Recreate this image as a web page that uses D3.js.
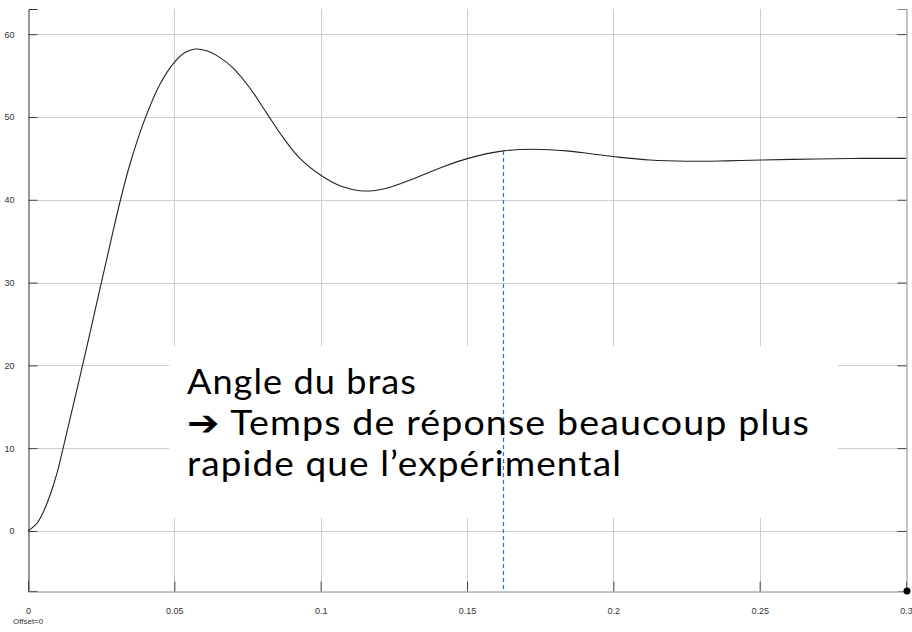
<!DOCTYPE html>
<html>
<head>
<meta charset="utf-8">
<script src="https://cdn.jsdelivr.net/npm/d3@7"></script>
<style>
	body { margin: 0; background: #fff; }
	svg { display: block; }
</style>
</head>
<body>
<div id="chart"></div>
<script>
//data
var timeValues = [0, 0.003, 0.0055, 0.008, 0.010, 0.0118, 0.015, 0.0189, 0.022, 0.0252, 0.0283, 0.0314, 0.035, 0.040, 0.045, 0.050, 0.0535, 0.0571, 0.061, 0.0655, 0.0701, 0.0758, 0.0815, 0.0872, 0.0929, 0.1003, 0.1066, 0.1146, 0.1225, 0.1328, 0.1419, 0.1504, 0.1624, 0.1726, 0.184, 0.2005, 0.2125, 0.225, 0.2387, 0.2507, 0.2694, 0.285, 0.3];
var angleValues = [0, 0.9, 2.5, 4.8, 7.1, 9.7, 14.5, 20.4, 25.2, 30.2, 35.0, 39.7, 44.5, 49.8, 53.9, 56.6, 57.75, 58.2, 58.0, 57.2, 55.9, 53.5, 50.5, 47.5, 45.0, 42.9, 41.7, 41.06, 41.4, 42.7, 44.0, 45.0, 45.9, 46.1, 45.9, 45.2, 44.8, 44.65, 44.7, 44.8, 44.93, 45.0, 45.0];

var xTicks = [0, 0.05, 0.1, 0.15, 0.2, 0.25, 0.3];
var xTickLabels = ['0', '0.05', '0.1', '0.15', '0.2', '0.25', '0.3'];
var yTicks = [0, 10, 20, 30, 40, 50, 60];

var cursorTime = 0.1622;
var offsetLabel = 'Offset=0';
var noteLines = ['Angle du bras', '\u2794 Temps de réponse beaucoup plus', 'rapide que l\u2019expérimental'];

//namespace for common vars
var fv = {
	'outerWidth': 912,
	'outerHeight': 632,
	'top': 9,
	'left': 28,
	'right': 906,
	'bottom': 591
};

//namespace for the note box
var note = {
	'x': 169,
	'y': 346,
	'width': 669,
	'height': 172,
	'textX': 187,
	'firstBaseline': 394,
	'lineHeight': 41,
	'lineWidths': [230, 623, 435]
};

var data = timeValues.map(function(t, i) { return {t: t, v: angleValues[i]}; });

var svg = d3.select('#chart').append('svg')
	.attr('width', fv.outerWidth)
	.attr('height', fv.outerHeight);

//scales
var x = d3.scaleLinear().domain([0, 0.3]).range([fv.left, fv.right]);
var y = d3.scaleLinear().domain([-7.25, 63.04]).range([fv.bottom, fv.top]);

//grid
var grid = svg.append('g').attr('class', 'grid');
grid.selectAll('.vgrid')
	.data(xTicks.slice(1, -1))
	.enter().append('line')
	.attr('x1', function(d) { return Math.round(x(d)) + 0.5; })
	.attr('x2', function(d) { return Math.round(x(d)) + 0.5; })
	.attr('y1', fv.top)
	.attr('y2', fv.bottom)
	.style('stroke', '#cdcdcd');
grid.selectAll('.hgrid')
	.data(yTicks)
	.enter().append('line')
	.attr('x1', fv.left)
	.attr('x2', fv.right)
	.attr('y1', function(d) { return Math.round(y(d)) + 0.5; })
	.attr('y2', function(d) { return Math.round(y(d)) + 0.5; })
	.style('stroke', '#cdcdcd');

//white note box covers the grid
svg.append('rect')
	.attr('x', note.x)
	.attr('y', note.y)
	.attr('width', note.width)
	.attr('height', note.height)
	.style('fill', '#fff');

//axes
var yAxis = d3.axisLeft(y).tickValues(yTicks).tickSize(-9).tickPadding(14).tickFormat(d3.format('d'));
var xAxis = d3.axisBottom(x).tickValues(xTicks).tickSize(-10).tickPadding(16).tickFormat(function(d, i) { return xTickLabels[i]; });
var yAxisRight = d3.axisRight(y).tickValues(yTicks).tickSize(-9).tickFormat('');

svg.append('g')
	.attr('class', 'axis y-axis')
	.attr('transform', 'translate(' + (fv.left + 0.5) + ',0)')
	.call(yAxis);
svg.append('g')
	.attr('class', 'axis x-axis')
	.attr('transform', 'translate(0,' + (fv.bottom + 0.5) + ')')
	.call(xAxis);
svg.append('g')
	.attr('class', 'axis y-axis-right')
	.attr('transform', 'translate(' + (fv.right + 0.5) + ',0)')
	.call(yAxisRight);

svg.selectAll('.axis .domain').style('stroke', '#333');
svg.selectAll('.x-axis .domain, .y-axis-right .domain').style('stroke', '#8a8a8a');
svg.selectAll('.axis .tick line').style('stroke', '#444');
svg.selectAll('.axis text')
	.style('font-family', '"Liberation Sans", Arial, sans-serif')
	.style('font-size', '9px')
	.style('fill', '#333');

//trace
var line = d3.line()
	.x(function(d) { return x(d.t); })
	.y(function(d) { return y(d.v); })
	.curve(d3.curveCatmullRom.alpha(0.5));

svg.append('path')
	.datum(data)
	.attr('d', line)
	.style('fill', 'none')
	.style('stroke', '#222')
	.style('stroke-width', 1.1);

//cursor line
var cursorValue = d3.scaleLinear().domain(timeValues).range(angleValues)(cursorTime);
svg.append('line')
	.attr('x1', Math.round(x(cursorTime)) + 0.5)
	.attr('x2', Math.round(x(cursorTime)) + 0.5)
	.attr('y1', y(cursorValue))
	.attr('y2', fv.bottom)
	.style('stroke', '#2f6bdc')
	.style('stroke-width', 1.2)
	.style('stroke-dasharray', '4,3');

//end marker
svg.append('circle')
	.attr('cx', x(0.3) + 1)
	.attr('cy', fv.bottom)
	.attr('r', 3.5)
	.style('fill', '#000');

//offset label
svg.append('text')
	.attr('x', 13)
	.attr('y', 624)
	.text(offsetLabel)
	.style('font-family', '"Liberation Sans", Arial, sans-serif')
	.style('font-size', '8px')
	.style('fill', '#333');

//note text, one text per line stretched to the reference widths
noteLines.forEach(function(d, i) {
	var t = svg.append('text')
		.attr('class', 'note-line')
		.attr('x', note.textX)
		.attr('y', note.firstBaseline + i * note.lineHeight)
		.attr('textLength', note.lineWidths[i])
		.attr('lengthAdjust', 'spacingAndGlyphs')
		.style('font-family', 'Lato, sans-serif')
		.style('font-size', '34px')
		.style('letter-spacing', '1px')
		.style('fill', '#000');
	if (d.charAt(0) === '\u2794') {
		t.append('tspan')
			.style('font-family', '"DejaVu Sans", sans-serif')
			.style('font-weight', 'bold')
			.style('font-size', '35px')
			.text('\u2794');
		t.append('tspan').text(d.slice(1));
	} else {
		t.text(d);
	}
});
</script>
</body>
</html>
